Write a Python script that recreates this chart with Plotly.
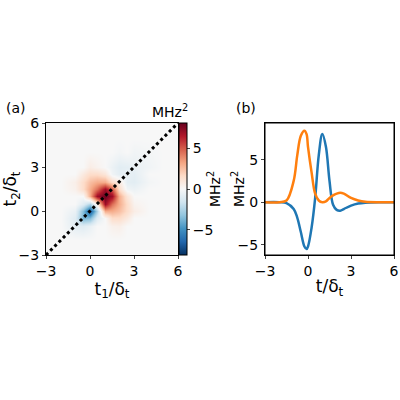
import plotly.graph_objects as go

grid = [-3, -2, -1, -0.5, 0, 0.5, 1, 1.5, 2, 2.5, 3, 4, 5, 6]
# (t1, t2, value) entries, upper triangle incl. diagonal; mirrored
entries = [
    (-1, -1, -0.8), (-0.5, -0.5, -3.8), (0, 0, -6.8), (0.5, 0.5, 0.5), (1, 1, 8.0),
    (1.5, 1.5, 5.0), (2, 2, 0.8), (2.5, 2.5, -0.6), (3, 3, -0.6), (4, 4, -0.15),
    (-1, -0.5, -1.0), (-1, 0, -0.6), (-0.5, 0, -3.5), (-0.5, 0.5, -1.0), (0, 0.5, -2.5),
    (0.5, 1, 7.0), (0, 1, 3.0), (1, 1.5, 7.0), (0.5, 1.5, 4.5), (0, 1.5, 3.0),
    (-0.5, 1.5, 1.5), (-0.5, 2, 1.5), (0, 2, 2.5), (0, 2.5, 1.5), (-0.5, 2.5, 0.8),
    (0, 3, 0.6), (0.5, 2, 3.0), (0.5, 2.5, 1.5), (1, 2, 3.0), (1, 2.5, 1.0),
    (1.5, 2, 1.5), (1.5, 2.5, -0.3), (2, 2.5, -0.8), (2, 3, -0.9), (2.5, 3, -0.8),
    (1.5, 3, -0.5), (3, 4, -0.3), (2, 4, -0.2), (-1, 2, 0.5), (-1, 1.5, 0.4), (0.5, 3, 0.3),
]
t_line = [-3, -2, -1.5, -1, -0.75, -0.5, -0.25, -0.1, 0, 0.25, 0.5, 0.75, 1, 1.25, 1.5,
          1.75, 2, 2.25, 2.5, 3, 3.5, 4, 5, 6]
blue = [0, 0, -0.1, -0.8, -1.8, -3.5, -5.2, -5.5, -5.2, -3.0, 0.5, 5.5, 8.0, 6.5, 2.5,
        -0.3, -0.9, -1.0, -0.8, -0.4, -0.15, -0.05, 0, 0]
orange = [0, 0, 0.2, 2.5, 5.5, 7.8, 8.4, 8.0, 6.5, 3.5, 1.0, 0.2, 0.0, 0.1, 0.5,
          0.8, 1.0, 1.1, 1.0, 0.5, 0.2, 0.05, 0, 0]

idx = {g: i for i, g in enumerate(grid)}
z = [[0.0] * len(grid) for _ in grid]
for a, b, v in entries:
    z[idx[b]][idx[a]] = v
    z[idx[a]][idx[b]] = v

rdbu_r = [[0, "#053061"], [0.1, "#2166ac"], [0.2, "#4393c3"], [0.3, "#92c5de"],
          [0.4, "#d1e5f0"], [0.5, "#f7f7f7"], [0.6, "#fddbc7"], [0.7, "#f4a582"],
          [0.8, "#d6604d"], [0.9, "#b2182b"], [1, "#67001f"]]

font = dict(family="DejaVu Sans", size=14, color="black")
fig = go.Figure()
fig.add_trace(go.Heatmap(x=grid, y=grid, z=z, zsmooth="best", colorscale=rdbu_r,
                         zmin=-8.1, zmax=8.1,
                         colorbar=dict(x=0.4475, xanchor="left", y=0.3625, yanchor="bottom",
                                       len=132, lenmode="pixels", thickness=8, xpad=0, ypad=0,
                                       outlinewidth=1, outlinecolor="black",
                                       tickvals=[-5, 0, 5], ticktext=["−5", "0", "5"],
                                       tickfont=font, ticks="outside", ticklen=3),
                         xaxis="x", yaxis="y"))
fig.add_trace(go.Scatter(x=[-3, 6], y=[-3, 6], mode="lines",
                         line=dict(color="black", width=3, dash="dot"), xaxis="x", yaxis="y"))
fig.add_trace(go.Scatter(x=t_line, y=blue, mode="lines", line=dict(color="#1f77b4", width=2.5, shape="spline"),
                         xaxis="x2", yaxis="y2"))
fig.add_trace(go.Scatter(x=t_line, y=orange, mode="lines", line=dict(color="#ff7f0e", width=2.5, shape="spline"),
                         xaxis="x2", yaxis="y2"))
ax = dict(showline=True, linecolor="black", linewidth=1, mirror=True, ticks="outside",
          ticklen=3, showgrid=False, zeroline=False, tickfont=font, automargin=False,
          ticklabeloverflow="allow")
fig.update_layout(
    width=400, height=400, margin=dict(l=0, r=0, t=0, b=0, autoexpand=False), showlegend=False,
    plot_bgcolor="white", paper_bgcolor="white", font=font,
    xaxis=dict(ax, domain=[0.115, 0.445], range=[-3, 6], tickvals=[-3, 0, 3, 6],
               ticktext=["−3", "0", "3", "6"], title=dict(text="t<sub>1</sub>/δ<sub>t</sub>", standoff=2)),
    yaxis=dict(ax, domain=[0.3625, 0.6925], range=[-3, 6], tickvals=[-3, 0, 3, 6],
               ticktext=["−3", "0", "3", "6"], title=dict(text="t<sub>2</sub>/δ<sub>t</sub>", standoff=2)),
    xaxis2=dict(ax, domain=[0.6625, 0.985], range=[-3, 6], tickvals=[-3, 0, 3, 6],
                ticktext=["−3", "0", "3", "6"], anchor="y2", title=dict(text="t/δ<sub>t</sub>", standoff=2)),
    yaxis2=dict(ax, domain=[0.3625, 0.6925], range=[-6.2, 9.3], tickvals=[-5, 0, 5],
                ticktext=["−5", "0", "5"], anchor="x2"),
    shapes=[dict(type="rect", xref="x2 domain", yref="y2 domain", x0=0, x1=1, y0=0, y1=1,
                 line=dict(color="black", width=1), fillcolor="rgba(0,0,0,0)")],
    annotations=[
        dict(text="(a)", x=0.01, y=0.705, xref="paper", yref="paper", showarrow=False,
             xanchor="left", yanchor="bottom", font=font),
        dict(text="(b)", x=0.585, y=0.705, xref="paper", yref="paper", showarrow=False,
             xanchor="left", yanchor="bottom", font=font),
        dict(text="MHz<sup>2</sup>", x=0.475, y=0.695, xref="paper", yref="paper", showarrow=False,
             xanchor="right", yanchor="bottom", font=font),
        dict(text="MHz<sup>2</sup>", x=0.535, y=0.5275, xref="paper", yref="paper", showarrow=False,
             textangle=-90, font=font),
        dict(text="MHz<sup>2</sup>", x=0.595, y=0.5275, xref="paper", yref="paper", showarrow=False,
             textangle=-90, font=font),
    ],
)
fig.write_html("out.html", config={"displayModeBar": False},
               post_script="document.body.style.margin='0';document.body.style.overflow='hidden';")
